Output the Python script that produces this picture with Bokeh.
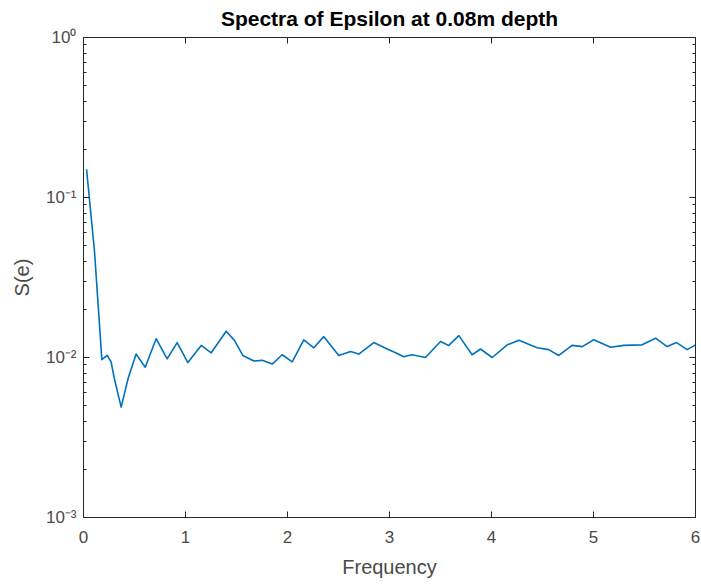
from bokeh.plotting import figure
from bokeh.models import (LinearAxis, LogAxis, Range1d, FixedTicker, LogTicker,
                          CustomJSTickFormatter)
from bokeh.embed import file_html
from bokeh.resources import INLINE

# ---- data ----
freq = [0.03, 0.108, 0.18, 0.232, 0.271, 0.30, 0.369, 0.44, 0.516, 0.605, 0.712,
        0.82, 0.918, 1.023, 1.154, 1.252, 1.399, 1.48, 1.562, 1.67, 1.752, 1.85,
        1.948, 2.046, 2.16, 2.258, 2.356, 2.503, 2.618, 2.699, 2.846, 2.977, 3.06,
        3.14, 3.22, 3.353, 3.5, 3.581, 3.68, 3.81, 3.892, 4.007, 4.154, 4.268,
        4.448, 4.56, 4.66, 4.79, 4.89, 5.003, 5.167, 5.297, 5.477, 5.608, 5.722,
        5.814, 5.918, 6.0]
spec = [0.150, 0.046, 0.0097, 0.0103, 0.0094, 0.0075, 0.0049, 0.0075, 0.0105,
        0.0087, 0.0131, 0.0098, 0.0124, 0.0093, 0.0119, 0.0107, 0.0146, 0.0128,
        0.0103, 0.0095, 0.0096, 0.0091, 0.0104, 0.0094, 0.0129, 0.0115, 0.0135,
        0.0103, 0.0109, 0.0105, 0.0124, 0.0113, 0.0107, 0.0101, 0.0104, 0.0100,
        0.0126, 0.0119, 0.0137, 0.0104, 0.0113, 0.0100, 0.0120, 0.0128, 0.0115,
        0.0112, 0.0103, 0.0119, 0.0117, 0.0129, 0.0116, 0.0119, 0.0120, 0.0132,
        0.0117, 0.0124, 0.0112, 0.0120]
x_ticks = [0, 1, 2, 3, 4, 5, 6]

FONT = "Liberation Sans"
AX = "#262626"
TL = "#4a4a4a"

p = figure(width=700, height=580, output_backend="svg", toolbar_location=None,
           y_axis_type="log", x_range=Range1d(0, 6), y_range=Range1d(1e-3, 1),
           min_border_left=83, min_border_right=5, min_border_top=35,
           min_border_bottom=62, x_axis_location=None, y_axis_location=None,
           title="Spectra of Epsilon at 0.08m depth")
p.title.align = "center"
p.title.vertical_align = "top"
p.title.text_font = FONT
p.title.text_font_size = "21px"
p.title.text_font_style = "bold"
p.title.text_color = "#000000"
p.title.standoff = 12
p.grid.visible = False
p.outline_line_color = None

p.line(freq, spec, line_color="#0072BD", line_width=1.6, line_join="round")

fmt = CustomJSTickFormatter(code="""
const sup = {'-':'\u207b','0':'\u2070','1':'\u00b9','2':'\u00b2','3':'\u00b3',
             '4':'\u2074','5':'\u2075','6':'\u2076','7':'\u2077','8':'\u2078','9':'\u2079'};
const e = Math.round(Math.log10(tick));
return '10' + String(e).split('').map(c => sup[c]).join('');
""")

def style(ax, labels=True):
    ax.axis_line_color = AX
    ax.major_tick_line_color = AX
    ax.minor_tick_line_color = AX
    ax.major_tick_in = 6
    ax.major_tick_out = 0
    ax.minor_tick_in = 3
    ax.minor_tick_out = 0
    ax.major_label_text_font = FONT
    ax.major_label_text_font_size = "17px"
    ax.major_label_text_color = TL
    ax.axis_label_text_font = FONT
    ax.axis_label_text_font_size = "20px"
    ax.axis_label_text_font_style = "normal"
    ax.axis_label_text_color = TL
    if not labels:
        ax.major_label_text_font_size = "0px"
        ax.major_label_text_color = None
        ax.major_label_standoff = 0

xb = LinearAxis(ticker=FixedTicker(ticks=x_ticks), axis_label="Frequency")
style(xb)
xb.minor_tick_line_color = None
xb.major_label_standoff = 13
xb.axis_label_standoff = 10
p.add_layout(xb, "below")

xt = LinearAxis(ticker=FixedTicker(ticks=x_ticks))
style(xt, labels=False)
xt.minor_tick_line_color = None
p.add_layout(xt, "above")

yl = LogAxis(ticker=LogTicker(num_minor_ticks=10), formatter=fmt, axis_label="S(e)")
style(yl)
yl.major_label_standoff = 7
yl.axis_label_standoff = 10
p.add_layout(yl, "left")

yr = LogAxis(ticker=LogTicker(num_minor_ticks=10))
style(yr, labels=False)
p.add_layout(yr, "right")

open("out.html", "w").write(file_html(p, INLINE))
